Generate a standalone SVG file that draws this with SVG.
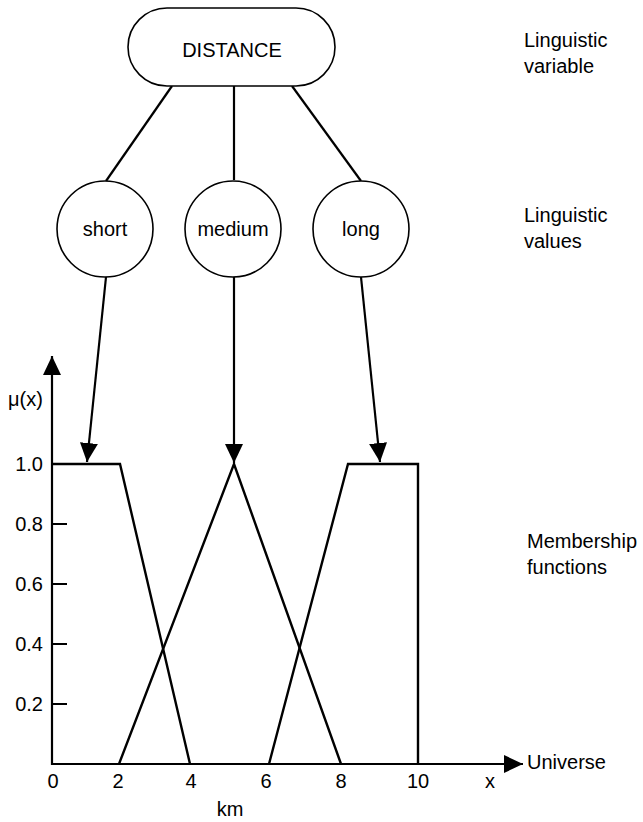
<svg xmlns="http://www.w3.org/2000/svg" width="643" height="822" viewBox="0 0 643 822">
<defs>
<style>
text{font-family:"Liberation Sans",Arial,sans-serif;font-size:20px;fill:#000}
.n{fill:#fff;stroke:#000;stroke-width:1.6}
.c{stroke:#000;stroke-width:2.2;fill:none}
.ax{stroke:#000;stroke-width:2.2;fill:none}
.mf{stroke:#000;stroke-width:2.4;fill:none;stroke-linejoin:miter}
.mid{text-anchor:middle}
.end{text-anchor:end}
</style>
<marker id="ah" markerUnits="userSpaceOnUse" markerWidth="20" markerHeight="20" viewBox="0 0 20 20" refX="19" refY="10" orient="auto">
<path d="M0,1 L19,10 L0,19 Z" fill="#000"/>
</marker>
</defs>
<rect width="643" height="822" fill="#fff"/>
<g id="connectors">
<line class="c" x1="172" y1="86" x2="106" y2="181"/>
<line class="c" x1="234" y1="86" x2="234" y2="180"/>
<line class="c" x1="292" y1="86" x2="361" y2="181"/>
<line class="c" x1="106" y1="277" x2="87" y2="462" marker-end="url(#ah)"/>
<line class="c" x1="234" y1="277" x2="234" y2="463" marker-end="url(#ah)"/>
<line class="c" x1="361" y1="277" x2="380" y2="462" marker-end="url(#ah)"/>
</g>
<g id="distance">
<rect class="n" x="128" y="8" width="207" height="78" rx="39" ry="39"/>
<text class="mid" x="232" y="57">DISTANCE</text>
</g>
<g id="short">
<circle class="n" cx="105" cy="229" r="48"/>
<text class="mid" x="105" y="236">short</text>
</g>
<g id="medium">
<circle class="n" cx="233" cy="229" r="48"/>
<text class="mid" x="233" y="236">medium</text>
</g>
<g id="long">
<circle class="n" cx="361" cy="229" r="48"/>
<text class="mid" x="361" y="236">long</text>
</g>
<g id="labels">
<text x="524" y="47">Linguistic</text>
<text x="524" y="73">variable</text>
<text x="524" y="222">Linguistic</text>
<text x="524" y="248">values</text>
<text x="527" y="548">Membership</text>
<text x="527" y="574">functions</text>
</g>
<g id="chart">
<line class="ax" x1="52" y1="765" x2="52" y2="356" marker-end="url(#ah)"/>
<line class="ax" x1="51" y1="764" x2="523" y2="764" marker-end="url(#ah)"/>
<path class="ax" d="M52,524H67M52,584H67M52,644H67M52,704H67"/>
<path class="mf" d="M52,464H120L190,764"/>
<path class="mf" d="M119,764L234,464L341,764"/>
<path class="mf" d="M269,764L348,464H418V764"/>
<text x="8" y="406">μ(x)</text>
<text class="end" x="43" y="471">1.0</text>
<text class="end" x="43" y="531">0.8</text>
<text class="end" x="43" y="591">0.6</text>
<text class="end" x="43" y="651">0.4</text>
<text class="end" x="43" y="711">0.2</text>
<text class="mid" x="53" y="788">0</text>
<text class="mid" x="118" y="788">2</text>
<text class="mid" x="191" y="788">4</text>
<text class="mid" x="266" y="788">6</text>
<text class="mid" x="341" y="788">8</text>
<text class="mid" x="418" y="788">10</text>
<text class="mid" x="490" y="788">x</text>
<text class="mid" x="230" y="816">km</text>
<text x="527" y="769">Universe</text>
</g>
</svg>
